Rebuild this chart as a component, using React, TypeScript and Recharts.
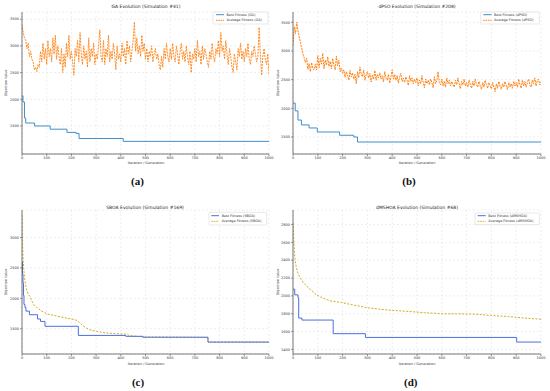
import React from 'react';
import { LineChart, Line, XAxis, YAxis, CartesianGrid } from 'recharts';

// ---------- shared ----------
const iterTicks = [0, 100, 200, 300, 400, 500, 600, 700, 800, 900, 1000];
const avgStep = 5; // noisy averages sampled every 5 iterations

// ---------- (a) GA ----------
const gaBestIter = [0, 4, 10, 15, 51, 114, 182, 219, 231, 410, 1000];
const gaBestVal = [2065, 1950, 1650, 1555, 1500, 1440, 1380, 1360, 1265, 1212, 1212];
const gaAvgVal = [
  3400, 3250, 3150, 3100, 2950, 3050, 2800, 2900, 2750, 2700,
  2550, 2600, 2520, 2650, 2600, 2900, 2700, 3050, 2750, 2950,
  2650, 3100, 2800, 2950, 2700, 3150, 2850, 3200, 2750, 3000,
  2800, 2650, 2950, 2500, 2850, 2600, 3050, 2800, 3200, 2750,
  2900, 2700, 2450, 2950, 2800, 3100, 2700, 3250, 2850, 2650,
  3000, 2750, 2900, 2600, 3150, 2700, 2950, 2800, 3050, 2650,
  2850, 2750, 3000, 3300, 2800, 2700, 3100, 2650, 2950, 2800,
  3200, 2700, 2900, 2750, 3050, 2850, 2550, 3000, 2750, 2850,
  2700, 3050, 2800, 2950, 2650, 3100, 2850, 3000, 2700, 2900,
  3100, 3450, 2900, 3150, 2850, 3000, 2800, 3200, 2900, 3050,
  2750, 2950, 2700, 2900, 2800, 3000, 2700, 2850, 2950, 2750,
  2850, 2650, 2550, 2800, 2600, 2950, 2750, 3050, 2800, 2700,
  2950, 2750, 3050, 2800, 2700, 3000, 2850, 2650, 2900, 3050,
  2750, 2900, 2700, 3000, 2800, 2650, 2900, 2500, 2850, 2750,
  2950, 2700, 3100, 2800, 2900, 2650, 3000, 2750, 2950, 2850,
  2700, 2600, 2900, 2750, 3050, 2800, 2700, 2950, 2850, 3100,
  2800, 3250, 2900, 3000, 2750, 3100, 2850, 2650, 2950, 2800,
  2600, 2500, 2850, 2700, 2550, 2950, 2800, 3050, 2750, 2900,
  2700, 2950, 2800, 3050, 2750, 2650, 2900, 2800, 3000, 2850,
  2700, 2800, 3350, 2850, 2450, 2800, 2950, 2750, 2650, 2850,
  2450,
];

// ---------- (b) dPSO ----------
const psoBestIter = [0, 9, 20, 34, 65, 98, 188, 245, 260, 1000];
const psoBestVal = [2090, 1955, 1795, 1710, 1657, 1587, 1530, 1500, 1412, 1412];
const psoAvgVal = [
  3100, 3420, 3300, 3500, 3350, 3250, 3150, 3050, 2950, 2880,
  2800, 2870, 2680, 2780, 2640, 2800, 2690, 2670, 2770, 2670,
  2920, 2710, 2870, 2770, 2960, 2690, 2840, 2750, 2900, 2730,
  2820, 2690, 2870, 2750, 2670, 2910, 2740, 2840, 2640, 2700,
  2610, 2670, 2540, 2640, 2570, 2490, 2660, 2550, 2620, 2510,
  2590, 2430, 2640, 2530, 2720, 2590, 2550, 2670, 2490, 2590,
  2640, 2530, 2610, 2460, 2580, 2510, 2660, 2490, 2590, 2530,
  2620, 2510, 2570, 2460, 2640, 2530, 2490, 2590, 2440, 2550,
  2670, 2510, 2590, 2490, 2570, 2440, 2550, 2610, 2470, 2530,
  2450, 2550, 2490, 2400, 2570, 2470, 2530, 2430, 2510, 2450,
  2530, 2390, 2490, 2430, 2570, 2450, 2360, 2510, 2430, 2490,
  2410, 2510, 2450, 2360, 2550, 2430, 2490, 2640, 2450, 2410,
  2510, 2390, 2470, 2370, 2530, 2430, 2490, 2390, 2470, 2410,
  2370, 2490, 2410, 2530, 2430, 2340, 2470, 2410, 2510, 2390,
  2450, 2370, 2490, 2410, 2350, 2470, 2390, 2510, 2410, 2370,
  2470, 2390, 2330, 2450, 2370, 2490, 2410, 2350, 2450, 2390,
  2340, 2450, 2370, 2290, 2430, 2350, 2470, 2390, 2330, 2430,
  2370, 2470, 2390, 2330, 2450, 2370, 2430, 2350, 2470, 2390,
  2450, 2370, 2510, 2410, 2350, 2490, 2390, 2470, 2370, 2450,
  2510, 2410, 2370, 2490, 2430, 2530, 2390, 2470, 2510, 2410,
  2460,
];

// ---------- (c) SBOA ----------
const sboaBestIter = [0, 2, 4, 6, 8, 12, 16, 30, 63, 75, 93, 228, 420, 490, 753, 1000];
const sboaBestVal = [2600, 2400, 2250, 2050, 1900, 1850, 1790, 1730, 1660, 1620, 1540, 1390, 1375, 1360, 1280, 1280];
const sboaAvgIter = [0, 2, 5, 8, 12, 19, 25, 32, 46, 60, 80, 100, 140, 180, 214, 225, 234, 248, 261, 280, 302, 340, 383, 420, 440, 490, 600, 720, 752, 753, 1000];
const sboaAvgVal = [3370, 2900, 2600, 2440, 2280, 2140, 2070, 2030, 1900, 1850, 1790, 1745, 1710, 1675, 1650, 1630, 1595, 1545, 1510, 1475, 1456, 1430, 1418, 1410, 1385, 1365, 1362, 1358, 1355, 1280, 1280];

// ---------- (d) dMSHOA ----------
const mshoaBestIter = [0, 7, 20, 23, 36, 162, 292, 902, 1000];
const mshoaBestVal = [2076, 2012, 1980, 1751, 1729, 1576, 1534, 1482, 1482];
const mshoaAvgIter = [0, 2, 4, 6, 9, 14, 20, 30, 40, 55, 75, 94, 120, 150, 195, 240, 296, 350, 400, 464, 530, 599, 660, 733, 800, 868, 930, 1000];
const mshoaAvgVal = [2820, 2700, 2580, 2480, 2390, 2310, 2255, 2195, 2155, 2110, 2060, 2012, 1975, 1945, 1926, 1900, 1868, 1850, 1838, 1826, 1812, 1800, 1798, 1796, 1780, 1768, 1752, 1738];

const yTicksA = [1500, 2000, 2500, 3000, 3500];
const yTicksC = [1500, 2000, 2500, 3000];
const yTicksD = [1400, 1600, 1800, 2000, 2200, 2400, 2600, 2800];

type Pt = { x: number; y: number };
const pairs = (xs: number[], ys: number[]): Pt[] => xs.map((x, i) => ({ x, y: ys[i] }));
const stepped = (ys: number[]): Pt[] => ys.map((y, i) => ({ x: i * avgStep, y }));

const FONT = 'DejaVu Sans, sans-serif';
const AX = '#555';
const TICK_FS = 3.5;

function Panel(props: any) {
  const { L, T, W, H, yw, mt, mr, yDomain, yTicks, best, avg, bestColor, avgColor, avgDash, avgWidth } = props;
  return (
    <div style={{ position: 'absolute', left: L, top: T }}>
      <LineChart width={W} height={H} margin={{ top: mt, right: mr, left: 0, bottom: 4 }}>
        <CartesianGrid xAxisId="b" yAxisId="l" stroke="#e2e2e2" strokeDasharray="2 2" strokeWidth={0.6} />
        <XAxis xAxisId="b" type="number" dataKey="x" domain={[0, 1000]} ticks={iterTicks} interval={0}
          height={12} tickSize={2} tickMargin={1} allowDataOverflow
          tick={{ fontSize: TICK_FS, fill: '#333', fontFamily: FONT }}
          tickLine={{ stroke: AX, strokeWidth: 0.6 }} axisLine={{ stroke: AX, strokeWidth: 0.8 }} />
        <XAxis xAxisId="t" orientation="top" type="number" dataKey="x" domain={[0, 1000]} height={0}
          tick={false} tickLine={false} axisLine={{ stroke: AX, strokeWidth: 0.8 }} />
        <YAxis yAxisId="l" type="number" domain={yDomain} ticks={yTicks} interval={0} width={yw}
          tickSize={2} tickMargin={1} allowDataOverflow
          tick={{ fontSize: TICK_FS, fill: '#333', fontFamily: FONT }}
          tickLine={{ stroke: AX, strokeWidth: 0.6 }} axisLine={{ stroke: AX, strokeWidth: 0.8 }} />
        <YAxis yAxisId="r" orientation="right" type="number" domain={yDomain} width={0}
          tick={false} tickLine={false} axisLine={{ stroke: AX, strokeWidth: 0.8 }} />
        <Line xAxisId="b" yAxisId="l" data={avg} dataKey="y" type="linear" stroke={avgColor}
          strokeWidth={avgWidth} strokeDasharray={avgDash} dot={false} activeDot={false} isAnimationActive={false} />
        <Line xAxisId="b" yAxisId="l" data={best} dataKey="y" type="stepAfter" stroke={bestColor}
          strokeWidth={1} dot={false} activeDot={false} isAnimationActive={false} />
      </LineChart>
    </div>
  );
}

function Legend(props: any) {
  const { x, y, w, h, lx1, lx2, tx, y1, y2, c1, c2, dash, n1, n2 } = props;
  return (
    <g>
      <rect x={x} y={y} width={w} height={h} rx={1} fill="#fff" fillOpacity={0.85} stroke="#d0d0d0" strokeWidth={0.5} />
      <line x1={lx1} x2={lx2} y1={y1} y2={y1} stroke={c1} strokeWidth={1} />
      <line x1={lx1} x2={lx2} y1={y2} y2={y2} stroke={c2} strokeWidth={1} strokeDasharray={dash} />
      <text x={tx} y={y1} dy="0.35em" fontSize={3.4} fill="#333" fontFamily={FONT}>{n1}</text>
      <text x={tx} y={y2} dy="0.35em" fontSize={3.4} fill="#333" fontFamily={FONT}>{n2}</text>
    </g>
  );
}

const BLUE = '#3f8fcb';
const ORANGE = '#ff7f0e';
const ROYAL = '#4b6fdc';
const GOLD = '#d4aa1e';

export default function App() {
  return (
    <div style={{ position: 'absolute', left: 0, top: 0, width: 550, height: 391, background: '#fff', overflow: 'hidden' }}>
      <Panel L={0} T={0} W={275} H={170} yw={22} mt={12} mr={6} yDomain={[975, 3635]} yTicks={yTicksA}
        best={pairs(gaBestIter, gaBestVal)} avg={stepped(gaAvgVal)} bestColor={BLUE} avgColor={ORANGE} avgDash="2 1" avgWidth={0.9} />
      <Panel L={275} T={0} W={275} H={170} yw={18} mt={12} mr={9} yDomain={[1203, 3680]} yTicks={yTicksA}
        best={pairs(psoBestIter, psoBestVal)} avg={stepped(psoAvgVal)} bestColor={BLUE} avgColor={ORANGE} avgDash="2 1" avgWidth={1} />
      <Panel L={0} T={195} W={275} H={175} yw={22} mt={15} mr={6} yDomain={[1084, 3454]} yTicks={yTicksC}
        best={pairs(sboaBestIter, sboaBestVal)} avg={pairs(sboaAvgIter, sboaAvgVal)} bestColor={ROYAL} avgColor={GOLD} avgDash="2 1.5" avgWidth={1} />
      <Panel L={275} T={195} W={275} H={175} yw={18} mt={15} mr={9} yDomain={[1348, 2964]} yTicks={yTicksD}
        best={pairs(mshoaBestIter, mshoaBestVal)} avg={pairs(mshoaAvgIter, mshoaAvgVal)} bestColor={ROYAL} avgColor={GOLD} avgDash="2 1.5" avgWidth={1} />

      <svg width={550} height={391} style={{ position: 'absolute', left: 0, top: 0, pointerEvents: 'none' }}>
        {/* titles */}
        <text x={146} y={6} dy="0.35em" textAnchor="middle" fontSize={4.5} fill="#222" fontFamily={FONT}>GA Evolution (Simulation #41)</text>
        <text x={417} y={6} dy="0.35em" textAnchor="middle" fontSize={4.5} fill="#222" fontFamily={FONT}>dPSO Evolution (Simulation #208)</text>
        <text x={145} y={207.5} dy="0.35em" textAnchor="middle" fontSize={4.5} fill="#222" fontFamily={FONT}>SBOA Evolution (Simulation #169)</text>
        <text x={417} y={207.5} dy="0.35em" textAnchor="middle" fontSize={4.5} fill="#222" fontFamily={FONT}>dMSHOA Evolution (Simulation #68)</text>

        {/* x labels */}
        <text x={146} y={163} dy="0.35em" textAnchor="middle" fontSize={3.4} fill="#333" fontFamily={FONT}>Iteration / Generation</text>
        <text x={417} y={163} dy="0.35em" textAnchor="middle" fontSize={3.4} fill="#333" fontFamily={FONT}>Iteration / Generation</text>
        <text x={146} y={364} dy="0.35em" textAnchor="middle" fontSize={3.4} fill="#333" fontFamily={FONT}>Iteration / Generation</text>
        <text x={417} y={364} dy="0.35em" textAnchor="middle" fontSize={3.4} fill="#333" fontFamily={FONT}>Iteration / Generation</text>

        {/* y labels */}
        <text transform="translate(6,83) rotate(-90)" dy="0.35em" textAnchor="middle" fontSize={3.4} fill="#333" fontFamily={FONT}>Objective Value</text>
        <text transform="translate(277.5,83) rotate(-90)" dy="0.35em" textAnchor="middle" fontSize={3.4} fill="#333" fontFamily={FONT}>Objective Value</text>
        <text transform="translate(6,282) rotate(-90)" dy="0.35em" textAnchor="middle" fontSize={3.4} fill="#333" fontFamily={FONT}>Objective Value</text>
        <text transform="translate(278,282) rotate(-90)" dy="0.35em" textAnchor="middle" fontSize={3.4} fill="#333" fontFamily={FONT}>Objective Value</text>

        {/* legends */}
        <Legend x={213} y={12} w={55} h={12} lx1={216} lx2={224} tx={226.5} y1={14.7} y2={20.3} c1={BLUE} c2={ORANGE} dash="1.5 0.8"
          n1="Best Fitness (GA)" n2="Average Fitness (GA)" />
        <Legend x={480.7} y={12} w={58.6} h={12} lx1={483.3} lx2={491.7} tx={494} y1={14.7} y2={20.3} c1={BLUE} c2={ORANGE} dash="1.5 0.8"
          n1="Best Fitness (dPSO)" n2="Average Fitness (dPSO)" />
        <Legend x={209} y={212.3} w={57.7} h={12.7} lx1={211.3} lx2={219} tx={221.7} y1={215.7} y2={221.3} c1={ROYAL} c2={GOLD} dash="1.5 1"
          n1="Best Fitness (SBOA)" n2="Average Fitness (SBOA)" />
        <Legend x={475} y={213} w={64.3} h={11.7} lx1={477.7} lx2={485.7} tx={488.3} y1={215.7} y2={221.3} c1={ROYAL} c2={GOLD} dash="1.5 1"
          n1="Best Fitness (dMSHOA)" n2="Average Fitness (dMSHOA)" />

        {/* captions */}
        <text x={137.5} y={181} dy="0.35em" textAnchor="middle" fontSize={11} fontWeight="bold" fill="#111" fontFamily="Liberation Serif, serif">(a)</text>
        <text x={409} y={181} dy="0.35em" textAnchor="middle" fontSize={11} fontWeight="bold" fill="#111" fontFamily="Liberation Serif, serif">(b)</text>
        <text x={138} y={381.7} dy="0.35em" textAnchor="middle" fontSize={11} fontWeight="bold" fill="#111" fontFamily="Liberation Serif, serif">(c)</text>
        <text x={410.7} y={381.7} dy="0.35em" textAnchor="middle" fontSize={11} fontWeight="bold" fill="#111" fontFamily="Liberation Serif, serif">(d)</text>
      </svg>
    </div>
  );
}
